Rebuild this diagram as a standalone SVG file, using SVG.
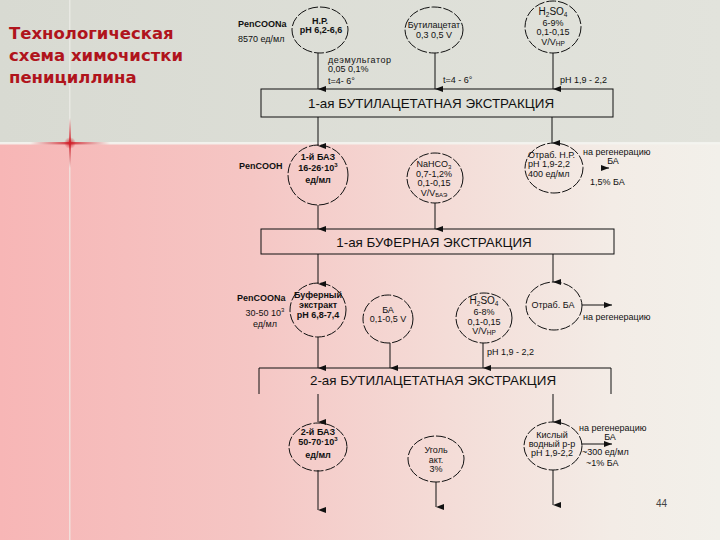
<svg xmlns="http://www.w3.org/2000/svg" width="720" height="540" viewBox="0 0 720 540">
<defs>
<linearGradient id="pink" x1="0" y1="0" x2="1" y2="0">
<stop offset="0" stop-color="#f7b6b6"/>
<stop offset="0.35" stop-color="#f5c6c4"/>
<stop offset="0.62" stop-color="#f4dcd7"/>
<stop offset="0.85" stop-color="#f3ece6"/>
<stop offset="1" stop-color="#f2f0ea"/>
</linearGradient>
<linearGradient id="gray" x1="0" y1="0" x2="1" y2="0">
<stop offset="0" stop-color="#d8dad2"/>
<stop offset="1" stop-color="#e2e3dc"/>
</linearGradient>
<radialGradient id="glow" cx="0.5" cy="0.5" r="0.5">
<stop offset="0" stop-color="#d0202a" stop-opacity="0.9"/>
<stop offset="1" stop-color="#d0202a" stop-opacity="0"/>
</radialGradient>
<linearGradient id="hglow" x1="0" y1="0" x2="1" y2="0">
<stop offset="0" stop-color="#d0202a" stop-opacity="0"/>
<stop offset="0.5" stop-color="#d0202a" stop-opacity="0.9"/>
<stop offset="1" stop-color="#d0202a" stop-opacity="0"/>
</linearGradient>
<linearGradient id="vglow" x1="0" y1="0" x2="0" y2="1">
<stop offset="0" stop-color="#d0202a" stop-opacity="0"/>
<stop offset="0.5" stop-color="#d0202a" stop-opacity="0.9"/>
<stop offset="1" stop-color="#d0202a" stop-opacity="0"/>
</linearGradient>
<marker id="ah" markerWidth="6" markerHeight="8" refX="3" refY="8" orient="auto-start-reverse" markerUnits="userSpaceOnUse" viewBox="0 0 6 8">
<path d="M0,0 L6,0 L3,8 z" fill="#111"/>
</marker>
<marker id="ar" markerWidth="8" markerHeight="6" refX="8" refY="3" orient="0" markerUnits="userSpaceOnUse" viewBox="0 0 8 6">
<path d="M0,0 L8,3 L0,6 z" fill="#111"/>
</marker>
</defs>
<style>
text{font-family:"Liberation Sans",Arial,sans-serif;fill:#111;}
.s{font-size:9px;}
.b{font-size:9px;font-weight:bold;}
.m{text-anchor:middle;}
.box{fill:none;stroke:#111;stroke-width:1;}
.bt{font-size:13.4px;text-anchor:middle;}
.c{fill:none;stroke:#111;stroke-width:1;stroke-dasharray:10 2;}
.ln{fill:none;stroke:#111;stroke-width:1;}
.title{font-family:"DejaVu Sans",Verdana,sans-serif;font-size:16.5px;font-weight:bold;fill:#b0141c;}
</style>

<!-- background -->
<rect x="0" y="0" width="720" height="540" fill="url(#pink)"/>
<rect x="0" y="0" width="720" height="143" fill="url(#gray)"/>
<rect x="0" y="142" width="720" height="2.5" fill="#f4f4f0" opacity="0.9"/>
<rect x="69" y="0" width="1.5" height="540" fill="#eeeeea" opacity="0.7"/>
<rect x="30" y="142" width="80" height="2.5" fill="url(#hglow)"/>
<rect x="69" y="118" width="2" height="50" fill="url(#vglow)"/>
<ellipse cx="70" cy="143" rx="6" ry="6" fill="url(#glow)"/>

<!-- title -->
<g id="title">
<text class="title" x="9" y="39">Технологическая</text>
<text class="title" x="9" y="61">схема химочистки</text>
<text class="title" x="9" y="83">пенициллина</text>
</g>

<!-- connectors -->
<g id="connectors">
<line class="ln" x1="318" y1="53" x2="318" y2="89" marker-end="url(#ah)"/>
<line class="ln" x1="435" y1="53" x2="435" y2="89" marker-end="url(#ah)"/>
<line class="ln" x1="553" y1="53" x2="553" y2="89" marker-end="url(#ah)"/>
<line class="ln" x1="318" y1="117" x2="318" y2="146" marker-end="url(#ah)"/>
<line class="ln" x1="552" y1="117" x2="552" y2="143" marker-end="url(#ah)"/>
<line class="ln" x1="602" y1="168" x2="609" y2="168" marker-end="url(#ar)"/>
<line class="ln" x1="318" y1="205" x2="318" y2="229" marker-end="url(#ah)"/>
<line class="ln" x1="435" y1="203" x2="435" y2="229" marker-end="url(#ah)"/>
<line class="ln" x1="318" y1="254" x2="318" y2="284" marker-end="url(#ah)"/>
<line class="ln" x1="553" y1="254" x2="553" y2="282" marker-end="url(#ah)"/>
<line class="ln" x1="582" y1="305" x2="612" y2="305" marker-end="url(#ar)"/>
<line class="ln" x1="318" y1="337" x2="318" y2="368" marker-end="url(#ah)"/>
<line class="ln" x1="390" y1="343" x2="390" y2="368" marker-end="url(#ah)"/>
<line class="ln" x1="483" y1="343" x2="483" y2="368" marker-end="url(#ah)"/>
<line class="ln" x1="318" y1="394" x2="318" y2="422" marker-end="url(#ah)"/>
<line class="ln" x1="553" y1="394" x2="553" y2="422" marker-end="url(#ah)"/>
<line class="ln" x1="318" y1="470" x2="318" y2="510" marker-end="url(#ah)"/>
<line class="ln" x1="436" y1="482" x2="436" y2="507" marker-end="url(#ah)"/>
<line class="ln" x1="553" y1="470" x2="553" y2="505" marker-end="url(#ah)"/>
<line class="ln" x1="582" y1="444" x2="612" y2="444" marker-end="url(#ar)"/>
</g>

<!-- row 1 -->
<g id="n-pencoona1">
<text class="b" x="238" y="27">PenCOONa</text>
<text class="s" x="238" y="42">8570 ед/мл</text>
</g>
<g id="n-np">
<ellipse class="c" cx="320" cy="30" rx="28" ry="23"/>
<text class="b m" x="320" y="24">Н.Р.</text>
<text class="b m" x="321" y="33">pH 6,2-6,6</text>
</g>
<g id="n-butylacetate">
<ellipse class="c" cx="434" cy="30" rx="29" ry="23"/>
<text class="s m" x="434" y="28">Бутилацетат</text>
<text class="s m" x="434" y="38">0,3 0,5 V</text>
</g>
<g id="n-h2so4-1">
<ellipse class="c" cx="553" cy="27" rx="28" ry="26"/>
<text class="m" x="553" y="15" font-size="10">H<tspan font-size="6.5" dy="1.5">2</tspan><tspan dy="-1.5">SO</tspan><tspan font-size="6.5" dy="1.5">4</tspan></text>
<text class="s m" x="553" y="26">6-9%</text>
<text class="s m" x="553" y="35">0,1-0,15</text>
<text class="s m" x="553" y="45">V/V<tspan font-size="6.5" dy="1">НР</tspan></text>
</g>
<g id="l-demulg">
<text class="s" x="328" y="63" textLength="63">деэмульгатор</text>
<text class="s" x="328" y="72">0,05 0,1%</text>
<text class="s" x="328" y="84">t=4- 6°</text>
</g>
<text class="s" x="443" y="83">t=4 - 6°</text>
<text class="s" x="560" y="83">pH 1,9 - 2,2</text>

<g id="box1">
<rect class="box" x="261" y="89" width="352" height="28"/>
<text class="bt" x="431" y="108">1-ая БУТИЛАЦЕТАТНАЯ ЭКСТРАКЦИЯ</text>
</g>

<!-- row 2 -->
<g id="n-pencooh">
<text class="b" x="239" y="169">PenCOOH</text>
</g>
<g id="n-baz1">
<ellipse class="c" cx="318" cy="175" rx="30" ry="30"/>
<text class="b m" x="318" y="160">1-й БАЗ</text>
<text class="b m" x="318" y="171">16-26·10<tspan font-size="6" dy="-4">3</tspan></text>
<text class="b m" x="318" y="183">ед/мл</text>
</g>
<g id="n-nahco3">
<ellipse class="c" cx="435" cy="178" rx="28" ry="25"/>
<text class="s m" x="434" y="167">NaHCO<tspan font-size="6" dy="1.5">3</tspan></text>
<text class="s m" x="434" y="177">0,7-1,2%</text>
<text class="s m" x="434" y="186">0,1-0,15</text>
<text class="s m" x="434" y="196">V/V<tspan font-size="6" dy="1">БАЭ</tspan></text>
</g>
<g id="n-otrab-np">
<ellipse class="c" cx="554" cy="168" rx="29" ry="25"/>
<text class="s" x="528" y="158">Отраб. Н.Р.</text>
<text class="s" x="528" y="167">pH 1,9-2,2</text>
<text class="s" x="528" y="177">400 ед/мл</text>
</g>
<g id="l-regen1">
<text class="s" x="583" y="155">на регенерацию</text>
<text class="s m" x="613" y="164">БА</text>
<text class="s" x="590" y="185">1,5% БА</text>
</g>

<g id="box2">
<rect class="box" x="261" y="229" width="353" height="25"/>
<text class="bt" x="434" y="247">1-ая БУФЕРНАЯ ЭКСТРАКЦИЯ</text>
</g>

<!-- row 3 -->
<g id="n-pencoona2">
<text class="b" x="237" y="301">PenCOONa</text>
<text class="s m" x="265" y="316">30-50 10<tspan font-size="6" dy="-4">3</tspan></text>
<text class="s m" x="265" y="327">ед/мл</text>
</g>
<g id="n-buffer">
<ellipse class="c" cx="318" cy="310" rx="28" ry="27"/>
<text class="b m" x="318" y="298">Буферный</text>
<text class="b m" x="318" y="308">экстракт</text>
<text class="b m" x="318" y="318">pH 6,8-7,4</text>
</g>
<g id="n-ba">
<ellipse class="c" cx="388" cy="319" rx="25" ry="24"/>
<text class="s m" x="388" y="313">БА</text>
<text class="s m" x="388" y="322">0,1-0,5 V</text>
</g>
<g id="n-h2so4-2">
<ellipse class="c" cx="484" cy="318" rx="28" ry="25"/>
<text class="m" x="484" y="304" font-size="10">H<tspan font-size="6.5" dy="1.5">2</tspan><tspan dy="-1.5">SO</tspan><tspan font-size="6.5" dy="1.5">4</tspan></text>
<text class="s m" x="484" y="315">6-8%</text>
<text class="s m" x="484" y="325">0,1-0,15</text>
<text class="s m" x="484" y="334">V/V<tspan font-size="6.5" dy="1">НР</tspan></text>
</g>
<text class="s" x="487" y="355">pH 1,9 - 2,2</text>
<g id="n-otrab-ba">
<ellipse class="c" cx="554" cy="306" rx="28" ry="24"/>
<text class="s m" x="553" y="308">Отраб. БА</text>
</g>
<text class="s" x="583" y="320">на регенерацию</text>

<g id="box3">
<path class="box" d="M259,394 L259,368 L611,368 L611,394"/>
<text class="bt" x="433" y="385">2-ая БУТИЛАЦЕТАТНАЯ ЭКСТРАКЦИЯ</text>
</g>

<!-- row 4 -->
<g id="n-baz2">
<ellipse class="c" cx="318" cy="447" rx="29" ry="24"/>
<text class="b m" x="318" y="435">2-й БАЗ</text>
<text class="b m" x="318" y="445">50-70·10<tspan font-size="6" dy="-4">3</tspan></text>
<text class="b m" x="318" y="458">ед/мл</text>
</g>
<g id="n-coal">
<ellipse class="c" cx="436" cy="459" rx="28" ry="23"/>
<text class="s m" x="436" y="453">Уголь</text>
<text class="s m" x="436" y="462.5">акт.</text>
<text class="s m" x="436" y="472">3%</text>
</g>
<g id="n-acid">
<ellipse class="c" cx="553" cy="446" rx="29" ry="24"/>
<text class="s m" x="552" y="438">Кислый</text>
<text class="s m" x="552" y="447">водный р-р</text>
<text class="s m" x="552" y="456">pH 1,9-2,2</text>
</g>
<g id="l-regen3">
<text class="s" x="579" y="431">на регенерацию</text>
<text class="s m" x="610" y="440">БА</text>
<text class="s" x="582" y="455">~300 ед/мл</text>
<text class="s" x="586" y="466">~1% БА</text>
</g>
<text x="656" y="507" font-size="10" style="fill:#444">44</text>
</svg>
